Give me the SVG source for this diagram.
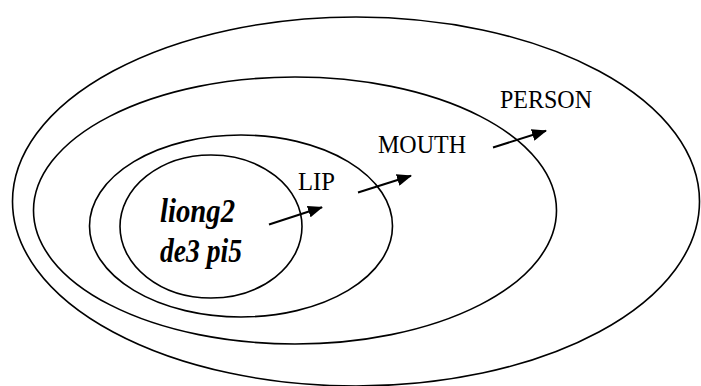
<svg xmlns="http://www.w3.org/2000/svg" width="701" height="386" viewBox="0 0 701 386">
<style>
.ring{fill:none;stroke:#000;stroke-width:1.6}
.lbl{font-family:"Liberation Serif","Times New Roman",serif;font-size:24.5px;fill:#000}
.core{font-family:"Liberation Serif","Times New Roman",serif;font-size:33px;font-weight:bold;font-style:italic;fill:#000}
.arr{stroke:#000;stroke-width:2;fill:none}
</style>
<defs>
<marker id="ah" markerWidth="15" markerHeight="12" refX="14" refY="6" orient="auto" markerUnits="userSpaceOnUse">
<path d="M0,0 L15,6 L0,12 z" fill="#000"/>
</marker>
</defs>
<rect width="701" height="386" fill="#fff"/>
<g id="person"><ellipse class="ring" cx="356" cy="201.5" rx="343.5" ry="184.5"/><text class="lbl" x="500" y="108" textLength="92" lengthAdjust="spacingAndGlyphs">PERSON</text></g>
<g id="mouth"><ellipse class="ring" cx="295" cy="210.5" rx="261.5" ry="133.5"/><text class="lbl" x="378" y="153" textLength="88" lengthAdjust="spacingAndGlyphs">MOUTH</text></g>
<g id="lip"><ellipse class="ring" cx="241" cy="226" rx="151.5" ry="91"/><text class="lbl" x="298" y="189.5" textLength="37" lengthAdjust="spacingAndGlyphs">LIP</text></g>
<g id="liong2"><ellipse class="ring" cx="211" cy="226.5" rx="91" ry="71.5"/><text class="core" x="160" y="222" textLength="75" lengthAdjust="spacingAndGlyphs">liong2</text><text class="core" x="160" y="262" textLength="82" lengthAdjust="spacingAndGlyphs">de3 pi5</text></g>
<g id="connectors">
<line class="arr" x1="269" y1="224.5" x2="322" y2="207.3" marker-end="url(#ah)"/>
<line class="arr" x1="358" y1="192.5" x2="411" y2="175.7" marker-end="url(#ah)"/>
<line class="arr" x1="493" y1="147.5" x2="546" y2="130.7" marker-end="url(#ah)"/>
</g>
</svg>
